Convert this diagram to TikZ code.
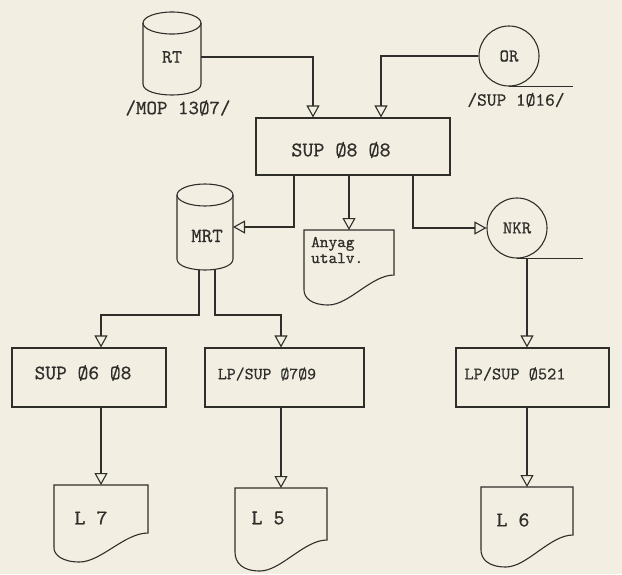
\documentclass[tikz,border=0pt]{standalone}
\usepackage{fontspec}
\newfontfamily\tw{lmmono10-regular.otf}[FakeBold=0.6]
\usetikzlibrary{arrows.meta,calc}
\definecolor{paper}{RGB}{242,239,226}
\definecolor{ink}{RGB}{48,46,42}
% cylinder: x0, x1, top, bottom, ry
\newcommand\mycyl[5]{%
  \draw[shp] (#1,{#3+#5}) -- (#1,{#4-#5}) .. controls (#1,{#4-#5+4/3*#5}) and (#2,{#4-#5+4/3*#5}) .. (#2,{#4-#5}) -- (#2,{#3+#5});
  \draw[shp] ({(#1+#2)/2},{#3+#5}) ellipse [x radius={(#2-#1)/2}, y radius=#5];
}
% document: x0, x1, top, bottom, y right end, y left end
\newcommand\mydoc[6]{%
  \draw[shp] (#1,#3) -- (#2,#3) -- (#2,#5)
    .. controls ({#2-0.25*(#2-#1)},#5) and ({#1+0.5*(#2-#1)},#4) .. ({#1+0.27*(#2-#1)},#4)
    .. controls ({#1+0.08*(#2-#1)},#4) and (#1,{#4-0.1*(#4-#3)}) .. (#1,#6) -- cycle;
}
\newcommand\fs[1]{\tw\fontsize{#1}{#1}\selectfont}
\begin{document}
\begin{tikzpicture}[x=1pt,y=-1pt,
  shp/.style={draw=ink,line width=1.1pt},
  arr/.style={draw=ink,line width=1.1pt,-{Triangle[open,length=12pt,width=13pt]}},
  box/.style={draw=ink,line width=1.1pt,inner sep=0pt},
  circ/.style={circle,draw=ink,line width=1.1pt,minimum size=60pt,inner sep=0pt,text=ink,font=\fs{18}},
  hold/.style={inner sep=0pt,outer sep=0pt},
  txt/.style={inner sep=0pt,text=ink,font=\fs{20}}
]
\fill[paper] (0,0) rectangle (622,574);
\useasboundingbox (0,0) rectangle (622,574);

% RT
\mycyl{143}{201}{12}{95}{11}
\node[txt,font=\fs{19},minimum width=58pt,minimum height=60pt] (rt) at (172,57) {RT};
\node[txt] (rtl) at (178,108) {/MOP 13Ø7/};

% OR
\node[circ] (or) at (509,56) {OR};
\draw[shp] (or.south) -- ++(64,0);
\node[txt,font=\fs{18.5}] (orl) at (516,100) {/SUP 1Ø16/};

% SUP 08 08
\node[box,minimum width=194pt,minimum height=57pt] (s88) at (353,146.5) {};
\node[txt,font=\fs{21}] (s88t) at (341,150) {SUP Ø8 Ø8};
\draw[arr] (rt.east) -| ([xshift=-40pt]s88.north);
\draw[arr] (or.west) -| ([xshift=28pt]s88.north);

% MRT
\mycyl{177}{233}{184}{270}{11}
\node[hold,minimum width=56pt,minimum height=86pt] (mrt) at (205,227) {};
\node[txt] (mrtt) at (207,236) {MRT};
\draw[arr] ([xshift=-59pt]s88.south) |- (mrt.east);

% Anyag utalv.
\mydoc{304}{394}{230}{305}{275}{290}
\node[hold,minimum width=90pt,minimum height=75pt] (anyag) at (349,267.5) {};
\node[txt,anchor=west,align=left,font=\tw\fontsize{16.5}{16}\selectfont] (anyagt) at (311,250) {Anyag\\utalv.};
\draw[arr] (s88.south -| anyag.north) -- (anyag.north);

% NKR
\node[circ] (nkr) at (517,228) {NKR};
\draw[shp] (nkr.south) -- ++(66,0);
\draw[arr] ([xshift=60pt]s88.south) |- (nkr.west);

% second row boxes
\node[box,minimum width=154pt,minimum height=59pt] (b1) at (89,377.5) {};
\node[txt,font=\fs{20.5}] (b1t) at (83,373) {SUP Ø6 Ø8};
\node[box,minimum width=159pt,minimum height=59pt] (b2) at (284.5,377.5) {};
\node[txt,font=\fs{17}] (b2t) at (267,374) {LP/SUP Ø7Ø9};
\node[box,minimum width=153pt,minimum height=59pt] (b3) at (532.5,377.5) {};
\node[txt,font=\fs{17.5}] (b3t) at (515,374) {LP/SUP Ø521};

% documents
\mydoc{54}{148}{485}{562}{533}{548}
\node[hold,minimum width=94pt,minimum height=77pt] (l7) at (101,523.5) {};
\node[txt,font=\fs{21}] (l7t) at (91,518) {L 7};
\mydoc{235}{327}{488}{571}{540}{552}
\node[hold,minimum width=92pt,minimum height=83pt] (l5) at (281,529.5) {};
\node[txt,font=\fs{21}] (l5t) at (268,518) {L 5};
\mydoc{481}{573}{487}{567}{535}{550}
\node[hold,minimum width=92pt,minimum height=80pt] (l6) at (527,527) {};
\node[txt,font=\fs{21}] (l6t) at (513,520) {L 6};

% connectors
\draw[arr] ([xshift=-6pt]mrt.south) -- ++(0,45) -| (l7.north |- b1.north);
\draw[arr] ([xshift=10pt]mrt.south) -- ++(0,45) -| (l5.north |- b2.north);
\draw[arr] (l6.north |- nkr.south) -- (l6.north |- b3.north);
\draw[arr] (l7.north |- b1.south) -- (l7.north);
\draw[arr] (l5.north |- b2.south) -- (l5.north);
\draw[arr] (l6.north |- b3.south) -- (l6.north);
\end{tikzpicture}
\end{document}
